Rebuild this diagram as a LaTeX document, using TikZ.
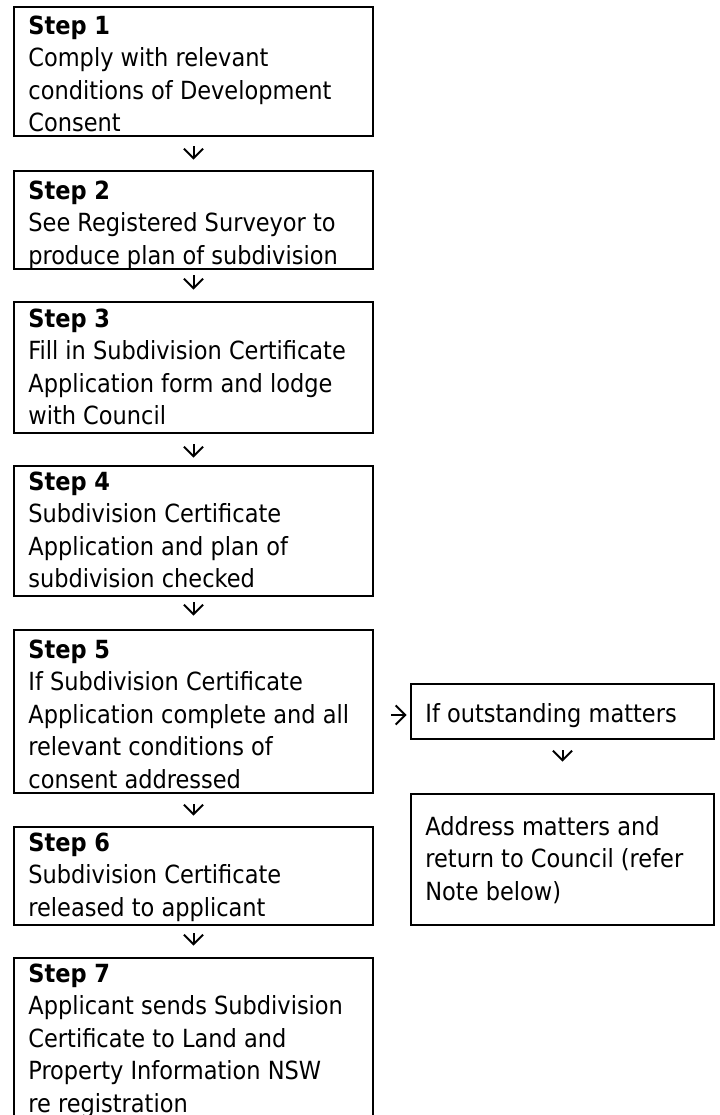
\documentclass[tikz,border=0pt]{standalone}
\usepackage{fontspec}
\setmainfont{DejaVu Sans Condensed}
\usetikzlibrary{arrows.meta}
\tikzset{
  box/.style={draw, line width=1.3pt, inner sep=0pt, minimum width=179.5pt},
  txt/.style={anchor=north west, inner sep=0pt, align=left,
    font=\fontsize{12.5}{16.2}\selectfont},
  arr/.style={line width=1pt, -{Straight Barb[length=4.8pt,width=9.6pt,line width=1pt]}}
}
\newcommand{\fl}{\rule{0pt}{11pt}}
\begin{document}
\begin{tikzpicture}[x=0.5pt,y=-0.5pt]
\useasboundingbox (0,0) rectangle (719,1115);
\clip (0,0) rectangle (719,1115);
% boxes
\node[box, minimum height=64.5pt] (B1) at (193.5,71.5) {};
\node[box, minimum height=49pt]   (B2) at (193.5,220) {};
\node[box, minimum height=65.5pt] (B3) at (193.5,367.5) {};
\node[box, minimum height=65pt]   (B4) at (193.5,531) {};
\node[box, minimum height=81.5pt] (B5) at (193.5,711.5) {};
\node[box, minimum height=49pt]   (B6) at (193.5,876) {};
\node[box, minimum height=88.5pt] (B7) at (193.5,1046.5) {};
\node[box, minimum width=151.5pt, minimum height=27.5pt] (BA) at (562.5,711.5) {};
\node[box, minimum width=151.5pt, minimum height=65.5pt] (BB) at (562.5,859.5) {};
% texts
\node[txt] (T1) at (28,12) {\fl\textbf{Step 1}\\Comply with relevant\\conditions of Development\\Consent};
\node[txt] (T2) at (28,177) {\fl\textbf{Step 2}\\See Registered Surveyor to\\produce plan of subdivision};
\node[txt] (T3) at (28,305) {\fl\textbf{Step 3}\\Fill in Subdivision Certificate\\Application form and lodge\\with Council};
\node[txt] (T4) at (28,468) {\fl\textbf{Step 4}\\Subdivision Certificate\\Application and plan of\\subdivision checked};
\node[txt] (T5) at (28,636) {\fl\textbf{Step 5}\\If Subdivision Certificate\\Application complete and all\\relevant conditions of\\consent addressed};
\node[txt] (T6) at (28,829) {\fl\textbf{Step 6}\\Subdivision Certificate\\released to applicant};
\node[txt] (T7) at (28,960) {\fl\textbf{Step 7}\\Applicant sends Subdivision\\Certificate to Land and\\Property Information NSW\\re registration};
\node[txt] (TA) at (425,700) {\fl If outstanding matters};
\node[txt] (TB) at (425,813) {\fl Address matters and\\return to Council (refer\\Note below)};
% arrows
\draw[arr] ([yshift=-4.5pt]B1.south) -- ([yshift=5pt]B2.north);
\draw[arr] ([yshift=-2.5pt]B2.south) -- ([yshift=5.5pt]B3.north);
\draw[arr] ([yshift=-5pt]B3.south) -- ([yshift=3.5pt]B4.north);
\draw[arr] ([yshift=-2.5pt]B4.south) -- ([yshift=6.5pt]B5.north);
\draw[arr] ([yshift=-5pt]B5.south) -- ([yshift=5pt]B6.north);
\draw[arr] ([yshift=-3.5pt]B6.south) -- ([yshift=5.5pt]B7.north);
\draw[arr] ([xshift=8.5pt,yshift=-1.75pt]B5.east) -- ([xshift=-1.5pt,yshift=-1.75pt]BA.west);
\draw[arr] ([yshift=-5pt]BA.south) -- ([yshift=15.5pt]BB.north);
\end{tikzpicture}
\end{document}
